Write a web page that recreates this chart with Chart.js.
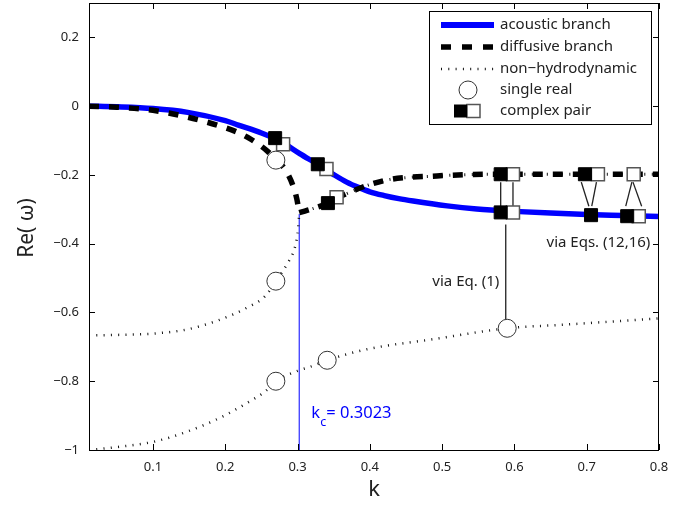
<!DOCTYPE html>
<html>
<head>
<meta charset="utf-8">
<script src="https://cdn.jsdelivr.net/npm/chart.js@4.4.1/dist/chart.umd.min.js"></script>
<style>
  html, body { margin: 0; padding: 0; background: #fff; }
  #wrap { width: 697px; height: 506px; }
</style>
</head>
<body>
<div id="wrap"><canvas id="chart" width="697" height="506"></canvas></div>
<script>
// axis setup
const xTicks = [0.1, 0.2, 0.3, 0.4, 0.5, 0.6, 0.7, 0.8];
const yTicks = [-1, -0.8, -0.6, -0.4, -0.2, 0, 0.2];
const kMin = 0.0115, kMax = 0.8;
const reMin = -1, reMax = 0.3;
const kc = 0.3023;

// acoustic branch (blue solid)
const acousticK  = [0.0115, 0.05, 0.1, 0.148, 0.2, 0.218, 0.25, 0.276, 0.303, 0.33, 0.35, 0.368, 0.385, 0.4, 0.42, 0.44, 0.46, 0.507, 0.548, 0.6, 0.65, 0.7, 0.75, 0.8];
const acousticRe = [0, -0.002, -0.007, -0.018, -0.042, -0.055, -0.078, -0.102, -0.138, -0.172, -0.199, -0.221, -0.237, -0.249, -0.26, -0.269, -0.276, -0.29, -0.299, -0.306, -0.311, -0.315, -0.318, -0.321];

// diffusive branch, real part below kc (dashed)
const diffusiveK  = [0.0115, 0.05, 0.1, 0.148, 0.19, 0.218, 0.236, 0.259, 0.27, 0.283, 0.294, 0.299, 0.3023];
const diffusiveRe = [0, -0.003, -0.012, -0.032, -0.056, -0.077, -0.097, -0.132, -0.155, -0.185, -0.233, -0.27, -0.31];

// complex pair above kc (dash-dot)
const complexK  = [0.3023, 0.31, 0.321, 0.342, 0.354, 0.375, 0.4, 0.428, 0.455, 0.483, 0.511, 0.538, 0.58, 0.65, 0.7, 0.8];
const complexRe = [-0.31, -0.305, -0.298, -0.282, -0.268, -0.248, -0.228, -0.213, -0.207, -0.204, -0.201, -0.199, -0.198, -0.198, -0.198, -0.198];

// non-hydrodynamic modes (dotted)
const upperK  = [0.0115, 0.056, 0.103, 0.148, 0.194, 0.231, 0.255, 0.27, 0.287, 0.295, 0.299, 0.301, 0.3023];
const upperRe = [-0.667, -0.665, -0.661, -0.649, -0.62, -0.585, -0.553, -0.509, -0.454, -0.42, -0.385, -0.35, -0.31];
const lowerK  = [0.0115, 0.056, 0.103, 0.148, 0.194, 0.231, 0.255, 0.27, 0.3, 0.319, 0.341, 0.396, 0.487, 0.59, 0.673, 0.8];
const lowerRe = [-1, -0.99, -0.975, -0.946, -0.905, -0.862, -0.83, -0.8, -0.77, -0.757, -0.739, -0.707, -0.678, -0.646, -0.635, -0.617];

// markers
const circleK  = [0.27, 0.27, 0.27, 0.341, 0.59];
const circleRe = [-0.157, -0.509, -0.8, -0.739, -0.646];
const blackK   = [0.269, 0.328, 0.342, 0.581, 0.581, 0.6975, 0.706, 0.756];
const blackRe  = [-0.093, -0.169, -0.282, -0.198, -0.309, -0.198, -0.317, -0.32];
const whiteK   = [0.28, 0.34, 0.354, 0.598, 0.598, 0.7155, 0.765, 0.772];
const whiteRe  = [-0.111, -0.183, -0.265, -0.198, -0.309, -0.198, -0.198, -0.32];

// connector lines between markers
const linkK  = [[0.581, 0.581], [0.598, 0.598], [0.6925, 0.703], [0.7135, 0.707], [0.7625, 0.754], [0.764, 0.776], [0.588, 0.588]];
const linkRe = [[-0.221, -0.291], [-0.221, -0.291], [-0.221, -0.291], [-0.221, -0.291], [-0.221, -0.291], [-0.221, -0.291], [-0.344, -0.62]];

// kc marker line
const kcLineRe = [-1, -0.314];

const legendLabels = ['acoustic branch', 'diffusive branch', 'non\u2212hydrodynamic', 'single real', 'complex pair'];

const FONT = '"Noto Sans", "Open Sans", sans-serif';

const pts = (ks, vs) => ks.map((k, i) => ({ x: k, y: vs[i] }));
const fmt = v => String(v).replace('-', '\u2212');

const datasets = [
  {
    label: 'complex pair (a)', data: pts(blackK, blackRe), order: 1,
    pointStyle: 'rect', pointRadius: 9.2, backgroundColor: '#000', borderColor: '#000', borderWidth: 1
  },
  {
    label: 'complex pair (b)', data: pts(whiteK, whiteRe), order: 2,
    pointStyle: 'rect', pointRadius: 9.2, backgroundColor: '#fff', borderColor: '#555', borderWidth: 1.5
  },
  {
    label: 'single real', data: pts(circleK, circleRe), order: 3,
    pointStyle: 'circle', pointRadius: 9, backgroundColor: '#fff', borderColor: '#333', borderWidth: 1
  },
  {
    label: 'diffusive branch', data: pts(diffusiveK, diffusiveRe), order: 5, showLine: true,
    borderColor: '#000', borderWidth: 5.5, borderDash: [10, 10], pointRadius: 0,
    cubicInterpolationMode: 'monotone'
  },
  {
    label: 'complex branch', data: pts(complexK, complexRe), order: 5, showLine: true,
    borderColor: '#000', borderWidth: 5.5, borderDash: [10, 10], pointRadius: 0,
    cubicInterpolationMode: 'monotone'
  },
  {
    label: 'complex branch dots', data: pts(complexK, complexRe), order: 6, showLine: true,
    borderColor: '#111', borderWidth: 3, borderDash: [1, 6.5], borderDashOffset: -14, pointRadius: 0,
    cubicInterpolationMode: 'monotone'
  },
  {
    label: 'non-hydrodynamic', data: pts(upperK, upperRe), order: 7, showLine: true,
    borderColor: '#111', borderWidth: 2.5, borderDash: [1, 6.3], pointRadius: 0,
    cubicInterpolationMode: 'monotone'
  },
  {
    label: 'non-hydrodynamic 2', data: pts(lowerK, lowerRe), order: 7, showLine: true,
    borderColor: '#111', borderWidth: 2.5, borderDash: [1, 6.3], pointRadius: 0,
    cubicInterpolationMode: 'monotone'
  },
  {
    label: 'acoustic branch', data: pts(acousticK, acousticRe), order: 8, showLine: true,
    borderColor: '#0000ff', borderWidth: 5.5, pointRadius: 0,
    cubicInterpolationMode: 'monotone'
  },
  {
    label: 'kc', data: pts([kc, kc], kcLineRe), order: 9, showLine: true,
    borderColor: '#0000ff', borderWidth: 1, pointRadius: 0
  }
];

linkK.forEach((ks, i) => {
  datasets.push({
    label: 'link ' + i, data: pts(ks, linkRe[i]), order: 4, showLine: true,
    borderColor: '#222', borderWidth: 1.3, pointRadius: 0
  });
});

const framePlugin = {
  id: 'frame',
  afterDraw(chart) {
    const ctx = chart.ctx;
    const a = chart.chartArea;
    const xs = chart.scales.x, ys = chart.scales.y;
    ctx.save();

    // axes box
    ctx.strokeStyle = '#000';
    ctx.lineWidth = 1;
    ctx.strokeRect(a.left + 0.5, a.top + 0.5, a.right - a.left - 1, a.bottom - a.top);

    // inward ticks on all sides
    ctx.beginPath();
    xTicks.forEach(v => {
      const px = Math.round(xs.getPixelForValue(v)) + 0.5;
      ctx.moveTo(px, a.bottom); ctx.lineTo(px, a.bottom - 6);
      ctx.moveTo(px, a.top); ctx.lineTo(px, a.top + 6);
    });
    yTicks.forEach(v => {
      const py = Math.round(ys.getPixelForValue(v)) + 0.5;
      ctx.moveTo(a.left, py); ctx.lineTo(a.left + 6, py);
      ctx.moveTo(a.right, py); ctx.lineTo(a.right - 6, py);
    });
    ctx.stroke();

    // axis titles
    ctx.fillStyle = '#222';
    ctx.textAlign = 'center';
    ctx.textBaseline = 'middle';
    ctx.font = '22px ' + FONT;
    ctx.fillText('k', (a.left + a.right) / 2, 490);
    ctx.save();
    ctx.translate(27, 228);
    ctx.rotate(-Math.PI / 2);
    ctx.font = '21px ' + FONT;
    ctx.fillText('Re( \u03c9)', 0, 0);
    ctx.restore();

    // annotations
    ctx.font = '15px ' + FONT;
    ctx.textAlign = 'right';
    ctx.fillStyle = '#222';
    ctx.fillText('via Eq. (1)', xs.getPixelForValue(0.579), ys.getPixelForValue(-0.512));
    ctx.fillText('via Eqs. (12,16)', xs.getPixelForValue(0.788), ys.getPixelForValue(-0.396));

    // kc label
    ctx.fillStyle = '#0000ff';
    ctx.textAlign = 'left';
    ctx.textBaseline = 'alphabetic';
    const kx = xs.getPixelForValue(kc) + 12;
    const ky = ys.getPixelForValue(-0.908);
    ctx.font = '16.5px ' + FONT;
    ctx.fillText('k', kx, ky);
    ctx.font = '12.5px ' + FONT;
    ctx.fillText('c', kx + 9, ky + 8);
    ctx.font = '16.5px ' + FONT;
    ctx.fillText('= 0.3023', kx + 15, ky);

    // legend
    const lx = 429, ly = 11, lw = 222, lh = 113;
    ctx.fillStyle = '#fff';
    ctx.fillRect(lx, ly, lw, lh);
    ctx.strokeStyle = '#000';
    ctx.lineWidth = 1;
    ctx.strokeRect(lx + 0.5, ly + 0.5, lw, lh);
    const rows = [25, 47, 69, 90, 111];
    const s0 = 441, s1 = 494;

    ctx.lineCap = 'butt';
    ctx.strokeStyle = '#0000ff';
    ctx.lineWidth = 6;
    ctx.beginPath(); ctx.moveTo(s0, rows[0]); ctx.lineTo(s1, rows[0]); ctx.stroke();

    ctx.strokeStyle = '#000';
    ctx.lineWidth = 5.5;
    ctx.setLineDash([10, 11]);
    ctx.beginPath(); ctx.moveTo(s0, rows[1]); ctx.lineTo(s1, rows[1]); ctx.stroke();

    ctx.strokeStyle = '#111';
    ctx.lineWidth = 2.5;
    ctx.setLineDash([1, 6.3]);
    ctx.beginPath(); ctx.moveTo(s0, rows[2]); ctx.lineTo(s1, rows[2]); ctx.stroke();
    ctx.setLineDash([]);

    ctx.fillStyle = '#fff';
    ctx.strokeStyle = '#333';
    ctx.lineWidth = 1;
    ctx.beginPath(); ctx.arc(468, rows[3], 9, 0, Math.PI * 2); ctx.fill(); ctx.stroke();

    ctx.fillStyle = '#fff';
    ctx.strokeStyle = '#555';
    ctx.lineWidth = 1.5;
    ctx.fillRect(467, rows[4] - 6.5, 13, 13);
    ctx.strokeRect(467, rows[4] - 6.5, 13, 13);
    ctx.fillStyle = '#000';
    ctx.fillRect(454, rows[4] - 6.5, 13, 13);

    ctx.fillStyle = '#222';
    ctx.font = '15px ' + FONT;
    ctx.textAlign = 'left';
    ctx.textBaseline = 'middle';
    legendLabels.forEach((t, i) => ctx.fillText(t, 500, rows[i]));

    ctx.restore();
  }
};

new Chart(document.getElementById('chart'), {
  type: 'scatter',
  data: { datasets },
  options: {
    responsive: false,
    animation: false,
    devicePixelRatio: 1,
    layout: { autoPadding: false, padding: { left: 0, right: 38, top: 3, bottom: 0 } },
    plugins: { legend: { display: false }, tooltip: { enabled: false } },
    scales: {
      x: {
        type: 'linear', min: kMin, max: kMax,
        afterBuildTicks: s => { s.ticks = xTicks.map(v => ({ value: v })); },
        afterFit: s => { s.height = 56; s.paddingLeft = 0; s.paddingRight = 0; },
        grid: { display: false, drawTicks: false },
        border: { display: false },
        ticks: { callback: fmt, padding: 9, color: '#222', font: { family: FONT, size: 13 }, maxRotation: 0 }
      },
      y: {
        type: 'linear', min: reMin, max: reMax,
        afterBuildTicks: s => { s.ticks = yTicks.map(v => ({ value: v })); },
        afterFit: s => { s.width = 89; s.paddingTop = 0; s.paddingBottom = 0; },
        grid: { display: false, drawTicks: false },
        border: { display: false },
        ticks: { callback: fmt, padding: 10, color: '#222', font: { family: FONT, size: 13 } }
      }
    }
  },
  plugins: [framePlugin]
});
</script>
</body>
</html>
